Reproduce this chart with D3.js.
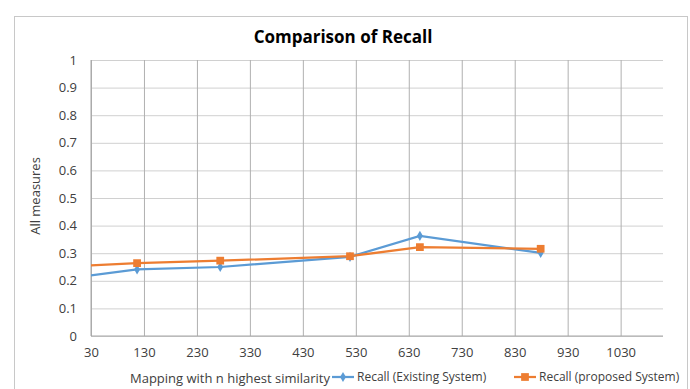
<!DOCTYPE html>
<html>
<head>
<meta charset="utf-8">
<script src="https://cdn.jsdelivr.net/npm/d3@7"></script>
<style>
body{margin:0;background:#fff;}
text{font-family:"Open Sans",sans-serif;}
</style>
</head>
<body>
<script>
// values
var xValues = [10, 117, 274, 519, 651, 879];
var existing = [0.215, 0.241, 0.25, 0.287, 0.363, 0.301];
var proposed = [0.254, 0.264, 0.273, 0.289, 0.322, 0.316];
var xTicks = [30,130,230,330,430,530,630,730,830,930,1030];
var yTicks = [0,0.1,0.2,0.3,0.4,0.5,0.6,0.7,0.8,0.9,1];
var seriesNames = ["Recall (Existing System)", "Recall (proposed System)"];
var colors = ["#5b9bd5", "#ed7d31"];

var width = 690, height = 389;
var svg = d3.select("body").append("svg")
.attr("width", width)
.attr("height", height);

// chart frame
svg.append("rect")
.attr("x", 14.5).attr("y", 16.5)
.attr("width", 673).attr("height", 380)
.attr("fill", "#fff").attr("stroke", "#c8c8c8");

var plot = {left: 91, right: 663, top: 60, bottom: 336};

var xScale = d3.scaleLinear().domain([30, 1110]).range([plot.left, plot.right]);
var yScale = d3.scaleLinear().domain([0, 1]).range([plot.bottom, plot.top]);

// horizontal gridlines + y labels
var yAxis = d3.axisLeft(yScale).tickValues(yTicks)
.tickSize(-(plot.right - plot.left)).tickPadding(14)
.tickFormat(function(d){ return d; });
var gy = svg.append("g")
.attr("transform", "translate(" + plot.left + ",0)")
.call(yAxis);
gy.select(".domain").remove();
gy.selectAll("line").attr("stroke", "#d0d0d0").attr("stroke-width", 1);
gy.selectAll("text").attr("font-size", "13px").attr("fill", "#404040");

// vertical gridlines + x labels
var xAxis = d3.axisBottom(xScale).tickValues(xTicks)
.tickSize(-(plot.bottom - plot.top)).tickPadding(12)
.tickFormat(function(d){ return d; });
var gx = svg.append("g")
.attr("transform", "translate(0," + plot.bottom + ")")
.call(xAxis);
gx.select(".domain").remove();
gx.selectAll("line").attr("stroke", "#b0b0b0").attr("stroke-width", 1);
gx.selectAll("text").attr("font-size", "13px").attr("fill", "#404040");

// axis lines
svg.append("line")
.attr("x1", plot.left).attr("x2", plot.right)
.attr("y1", plot.bottom).attr("y2", plot.bottom)
.attr("stroke", "#a6a6a6");
svg.append("line")
.attr("x1", plot.left).attr("x2", plot.left)
.attr("y1", plot.top).attr("y2", plot.bottom)
.attr("stroke", "#a6a6a6");

svg.append("clipPath").attr("id", "clip")
.append("rect")
.attr("x", plot.left).attr("y", plot.top)
.attr("width", plot.right - plot.left).attr("height", plot.bottom - plot.top);

var line = d3.line()
.x(function(d){ return xScale(d[0]); })
.y(function(d){ return yScale(d[1]); });

var series = [existing, proposed].map(function(vals){
	return vals.map(function(v, i){ return [xValues[i], v]; });
});

var g = svg.append("g").attr("clip-path", "url(#clip)");

series.forEach(function(pts, i){
	g.append("path")
	.attr("d", line(pts))
	.attr("fill", "none")
	.attr("stroke", colors[i])
	.attr("stroke-width", 2.25);

	g.selectAll(".m" + i)
	.data(pts)
	.enter()
	.append("path")
	.attr("class", "m" + i)
	.attr("transform", function(d){
		return "translate(" + xScale(d[0]) + "," + yScale(d[1]) + ")";
	})
	.attr("d", d3.symbol().type(i == 0 ? d3.symbolDiamond : d3.symbolSquare).size(i == 0 ? 30 : 60))
	.attr("fill", colors[i]);
});

// title
svg.append("text")
.attr("x", 343).attr("y", 43)
.attr("text-anchor", "middle")
.attr("font-size", "17px")
.attr("font-weight", "bold")
.attr("fill", "#000")
.text("Comparison of Recall");

// y axis title
svg.append("text")
.attr("transform", "translate(40,196) rotate(-90)")
.attr("text-anchor", "middle")
.attr("font-size", "13px")
.attr("fill", "#404040")
.text("All measures");

// x axis title
svg.append("text")
.attr("x", 230).attr("y", 383)
.attr("text-anchor", "middle")
.attr("font-size", "13px")
.attr("fill", "#404040")
.text("Mapping with n highest similarity");

// legend
var legendX = [332, 514];
seriesNames.forEach(function(name, i){
	var lg = svg.append("g").attr("transform", "translate(" + legendX[i] + ",377)");
	lg.append("line")
	.attr("x1", 0).attr("x2", 22)
	.attr("stroke", colors[i]).attr("stroke-width", 2.25);
	lg.append("path")
	.attr("transform", "translate(11,0)")
	.attr("d", d3.symbol().type(i == 0 ? d3.symbolDiamond : d3.symbolSquare).size(i == 0 ? 30 : 60))
	.attr("fill", colors[i]);
	lg.append("text")
	.attr("x", 25).attr("y", 4)
	.attr("font-size", "12px")
	.attr("fill", "#404040")
	.text(name);
});
</script>
</body>
</html>
